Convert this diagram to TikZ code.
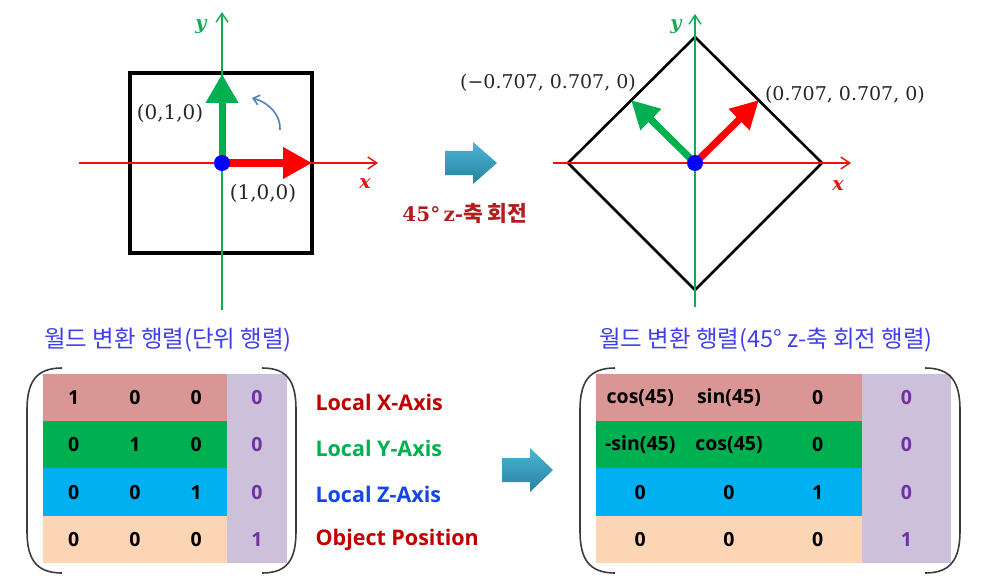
\documentclass[tikz,border=0pt]{standalone}
\usepackage{fontspec}
\usetikzlibrary{arrows.meta}
\newfontfamily\kr{Noto Sans CJK KR}
\newfontfamily\osb{Open Sans}
\newfontfamily\dvs{DejaVu Serif}
\definecolor{vred}{RGB}{255,0,0}
\definecolor{vgreen}{RGB}{0,176,80}
\definecolor{axred}{RGB}{230,20,20}
\definecolor{axgreen}{RGB}{20,170,80}
\definecolor{dotblue}{RGB}{0,0,255}
\definecolor{curvblue}{RGB}{79,129,189}
\definecolor{rowA}{RGB}{218,150,148}
\definecolor{rowB}{RGB}{0,176,80}
\definecolor{rowC}{RGB}{0,176,240}
\definecolor{rowD}{RGB}{252,213,180}
\definecolor{colD}{RGB}{204,192,218}
\definecolor{purp}{RGB}{112,48,160}
\definecolor{dred}{RGB}{192,0,0}
\definecolor{lblue}{RGB}{20,70,230}
\definecolor{ttlblue}{RGB}{64,64,235}
\definecolor{rotred}{RGB}{176,30,30}
\definecolor{cyanT}{RGB}{75,180,214}
\definecolor{cyanB}{RGB}{40,130,160}
\definecolor{parc}{RGB}{60,60,60}
\begin{document}
\begin{tikzpicture}[x=1pt,y=-1pt,
  axx/.style={draw=axred, line width=1.4pt, -{Straight Barb[length=9pt,width=12pt]}},
  axy/.style={draw=axgreen, line width=1.4pt, -{Straight Barb[length=9pt,width=12pt]}},
  redvec/.style={draw=vred, line width=#1, -{Triangle[length=29pt,width=30pt]}},
  greenvec/.style={draw=vgreen, line width=#1, -{Triangle[length=29pt,width=31pt]}},
  redvec2/.style={draw=vred, line width=7pt, -{Triangle[length=28pt,width=28pt]}},
  greenvec2/.style={draw=vgreen, line width=7pt, -{Triangle[length=28pt,width=28pt]}},
  dot/.style={circle, fill=dotblue, minimum size=16pt, inner sep=0pt},
  axlbl/.style={font=\dvs\bfseries\itshape\fontsize{19}{19}\selectfont},
  vlbl/.style={font=\dvs\fontsize{#1}{#1}\selectfont, text=black!85},
  cell/.style={minimum width=61.4pt, minimum height=47.25pt, inner sep=0pt, font=\osb\bfseries\fontsize{19.5}{19.5}\selectfont},
  cellD/.style={cell, fill=colD, minimum width=60pt, text=purp},
  rcell/.style={cell, minimum width=88.7pt},
  rcellD/.style={cell, fill=colD, minimum width=89pt, text=purp},
  sidelbl/.style={anchor=west, font=\osb\bfseries\fontsize{21.5}{22}\selectfont},
  ttl/.style={font=\kr\fontsize{23.5}{23.5}\selectfont, text=ttlblue},
  paren/.style={draw=parc, line width=1.6pt},
  bigarrow/.style={top color=cyanT, bottom color=cyanB, draw=none}
]
\useasboundingbox (0,0) rectangle (985,583);

% ---------- left diagram ----------
\draw[black, line width=3.2pt] (130,73) rectangle (312,253);
\coordinate (xa1) at (79,163);
\coordinate (xb1) at (378,163);
\coordinate (ya1) at (222,310);
\coordinate (yb1) at (222,12);
\draw[axx] (xa1) -- (xb1);
\draw[axy] (ya1) -- (yb1);
\node[axlbl, text=axred] (xl1) at (365,184) {x};
\node[axlbl, text=axgreen] (yl1) at (201,27) {y};
\coordinate (O1) at (222,163);
\coordinate (X1) at (312,163);
\coordinate (Y1) at (222,74);
\draw[redvec=8pt] (O1) -- (X1);
\draw[greenvec=7pt] (O1) -- (Y1);
\node[dot] (D1) at (O1) {};
\coordinate (c1) at (280,130);
\coordinate (c2) at (252,98);
\draw[curvblue, line width=1.6pt, -{Straight Barb[length=6pt,width=10pt]}] (c1) .. controls (281,116) and (270,103) .. (c2);
\node[vlbl=20] (l010) at (170,113) {(0,1,0)};
\node[vlbl=20] (l100) at (263,193) {(1,0,0)};

% ---------- middle arrow and text ----------
\shade[bigarrow] (445,151) -- (473,151) -- (473,142) -- (497,163) -- (473,184) -- (473,175) -- (445,175) -- cycle;
\node[text=rotred, inner sep=0pt] (rot) at (465,213) {{\dvs\bfseries\fontsize{20}{20}\selectfont 45°\,z-}{\kr\bfseries\fontsize{21.5}{21.5}\selectfont 축 회전}};

% ---------- right diagram ----------
\draw[black, line width=2.6pt, line join=miter] (568,163) -- (695,37) -- (822,163) -- (695,290) -- cycle;
\coordinate (xa2) at (553,163);
\coordinate (xb2) at (851,163);
\coordinate (ya2) at (695,307);
\coordinate (yb2) at (695,14);
\draw[axx] (xa2) -- (xb2);
\draw[axy] (ya2) -- (yb2);
\node[axlbl, text=axred] (xl2) at (838,186) {x};
\node[axlbl, text=axgreen] (yl2) at (676,27) {y};
\coordinate (O2) at (695,163);
\coordinate (R2) at (759,100);
\coordinate (G2) at (631,100);
\draw[redvec2] (O2) -- (R2);
\draw[greenvec2] (O2) -- (G2);
\node[dot] (D2) at (O2) {};
\node[vlbl=19] (lneg) at (548,83) {(−0.707, 0.707, 0)};
\node[vlbl=19] (lpos) at (845,95) {(0.707, 0.707, 0)};

% ---------- titles ----------
\node[ttl] (t1) at (168,340) {월드 변환 행렬(단위 행렬)};
\node[ttl] (t2) at (766,340) {월드 변환 행렬(45° z-축 회전 행렬)};

% ---------- left matrix ----------
\foreach \r/\y/\fc/\a/\b/\c/\d in {1/397.6/rowA/1/0/0/0, 2/444.9/rowB/0/1/0/0, 3/492.1/rowC/0/0/1/0, 4/539.4/rowD/0/0/0/1}{
  \node[cell, fill=\fc] (L\r a) at (73.7,\y) {\a};
  \node[cell, fill=\fc] (L\r b) at (135,\y) {\b};
  \node[cell, fill=\fc] (L\r c) at (196.3,\y) {\c};
  \node[cellD] (L\r d) at (257,\y) {\d};
}
\draw[paren] (62,368) .. controls (36,368) and (27,382) .. (27,410) -- (27,531) .. controls (27,559) and (36,573) .. (62,573);
\draw[paren] (262,368) .. controls (288,368) and (296,382) .. (296,410) -- (296,531) .. controls (296,559) and (288,573) .. (262,573);
\node[sidelbl, text=dred] (sx) at (312,402) {Local X-Axis};
\node[sidelbl, text=vgreen] (sy) at (312,448) {Local Y-Axis};
\node[sidelbl, text=lblue] (sz) at (312,494) {Local Z-Axis};
\node[sidelbl, text=dred] (so) at (312,540) {Object Position};

% ---------- bottom arrow ----------
\shade[bigarrow] (502,458) -- (530,458) -- (530,448) -- (553,470) -- (530,492) -- (530,482) -- (502,482) -- cycle;

% ---------- right matrix ----------
\foreach \r/\y/\fc/\a/\b/\c/\d in {1/397.6/rowA/{cos(45)}/{sin(45)}/0/0, 2/444.9/rowB/{-sin(45)}/{cos(45)}/0/0, 3/492.1/rowC/0/0/1/0, 4/539.4/rowD/0/0/0/1}{
  \node[rcell, fill=\fc] (R\r a) at (640.3,\y) {\a};
  \node[rcell, fill=\fc] (R\r b) at (729,\y) {\b};
  \node[rcell, fill=\fc] (R\r c) at (817.7,\y) {\c};
  \node[rcellD] (R\r d) at (906.5,\y) {\d};
}
\draw[paren] (615,368) .. controls (589,368) and (580,382) .. (580,410) -- (580,531) .. controls (580,559) and (589,573) .. (615,573);
\draw[paren] (925,368) .. controls (951,368) and (960,382) .. (960,410) -- (960,531) .. controls (960,559) and (951,573) .. (925,573);
\end{tikzpicture}
\end{document}
